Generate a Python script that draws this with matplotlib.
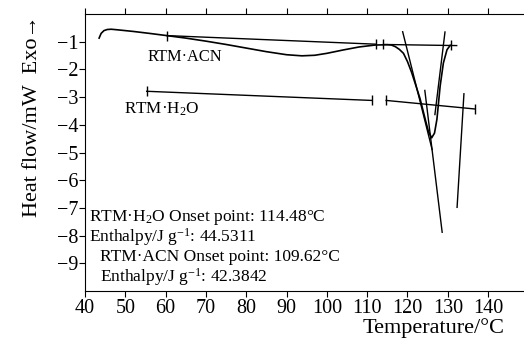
import numpy as np
import matplotlib
matplotlib.use('Agg')
import matplotlib.pyplot as plt

plt.rcParams['font.family'] = ['Liberation Serif', 'DejaVu Serif']
plt.rcParams['mathtext.fontset'] = 'custom'
plt.rcParams['mathtext.rm'] = 'Liberation Serif'
plt.rcParams['mathtext.it'] = 'Liberation Serif:italic'

# DSC trace of RTM-ACN
acn_t = [43.5, 44.0, 44.7, 45.5, 46.5, 48, 52, 56, 60.3, 65, 70, 75, 80, 85, 90,
         93.8, 97, 100, 104, 108, 112, 115, 116, 117, 118, 119, 120, 121, 122,
         123.1, 124.4, 125.2, 126.0, 126.7, 127.3, 128.1, 128.9, 129.8, 130.6]
acn_hf = [-0.87, -0.70, -0.60, -0.56, -0.55, -0.57, -0.63, -0.70, -0.78, -0.87,
          -0.98, -1.10, -1.23, -1.36, -1.47, -1.51, -1.49, -1.42, -1.30, -1.19,
          -1.12, -1.11, -1.12, -1.18, -1.28, -1.42, -1.72, -2.10, -2.55, -3.05,
          -3.80, -4.25, -4.47, -4.30, -3.80, -2.60, -1.77, -1.29, -1.13]

# baselines / tangents, each a (t, hf) pair of end points
acn_base1 = ([60.3, 112.2], [-0.78, -1.09])
acn_base2 = ([114.0, 132.2], [-1.10, -1.14])
acn_base_ticks = ([60.3, 112.2, 114.0, 130.8], [-0.78, -1.09, -1.10, -1.13])
acn_tan_left = ([118.8, 126.1], [-0.64, -4.89])
acn_tan_right = ([129.3, 126.8], [-0.65, -3.63])

h2o_base1 = ([55.3, 111.1], [-2.79, -3.12])
h2o_base2 = ([114.7, 136.8], [-3.12, -3.43])
h2o_base_ticks = ([55.3, 111.1, 114.7, 136.8], [-2.79, -3.12, -3.12, -3.43])
h2o_tan_left = ([124.3, 128.6], [-2.76, -7.88])
h2o_tan_right = ([134.0, 132.3], [-2.88, -6.98])

xticks = [40, 50, 60, 70, 80, 90, 100, 110, 120, 130, 140]
yticks = [-1, -2, -3, -4, -5, -6, -7, -8, -9]

info = ['RTM·H$_2$O Onset point: 114.48°C',
        'Enthalpy/J g$^{-1}$: 44.5311',
        'RTM·ACN Onset point: 109.62°C',
        'Enthalpy/J g$^{-1}$: 42.3842']

fig = plt.figure(figsize=(5.24, 3.47), dpi=100)
ax = fig.add_axes([85 / 524, 1 - 291 / 347, 439 / 524, 277 / 347])

ax.plot(acn_t, acn_hf, color='black', lw=1.2)
for seg in [acn_base1, acn_base2, acn_tan_left, acn_tan_right,
            h2o_base1, h2o_base2, h2o_tan_left, h2o_tan_right]:
    ax.plot(seg[0], seg[1], color='black', lw=1.0)
ax.plot(acn_base_ticks[0], acn_base_ticks[1], ls='none', marker='|',
        ms=7, mew=1.0, color='black')
ax.plot(h2o_base_ticks[0], h2o_base_ticks[1], ls='none', marker='|',
        ms=7, mew=1.0, color='black')

ax.text(55.4, -1.55, 'RTM·ACN', fontsize=11.8, va='center')
ax.text(49.7, -3.45, 'RTM·H$_2$O', fontsize=12.3, va='center')
ax.text(41.0, -7.34, info[0], fontsize=12.5, va='center')
ax.text(41.0, -8.06, info[1], fontsize=12.5, va='center')
ax.text(43.7, -8.78, info[2], fontsize=12.5, va='center')
ax.text(43.7, -9.50, info[3], fontsize=12.5, va='center')

ax.set_xlim(40, 148.9)
ax.set_ylim(-10, 0)
ax.set_xticks(xticks)
ax.set_yticks(yticks)
ax.set_yticklabels(['\u2212%d' % abs(v) for v in yticks])
ax.spines['right'].set_visible(False)
ax.tick_params(axis='both', direction='out', length=4, width=0.8,
               labelsize=14.5, pad=2)
ax.tick_params(axis='x', top=True)
ax.tick_params(axis='y', pad=1)

fig.text(505 / 524, 1 - 328 / 347, 'Temperature/°C', fontsize=16,
         ha='right', va='center')
fig.text(33 / 524, 1 - 116 / 347, 'Heat flow/mW  Exo\u2192', fontsize=16,
         rotation=90, ha='center', va='center')

fig.savefig('out.png', dpi=100)
